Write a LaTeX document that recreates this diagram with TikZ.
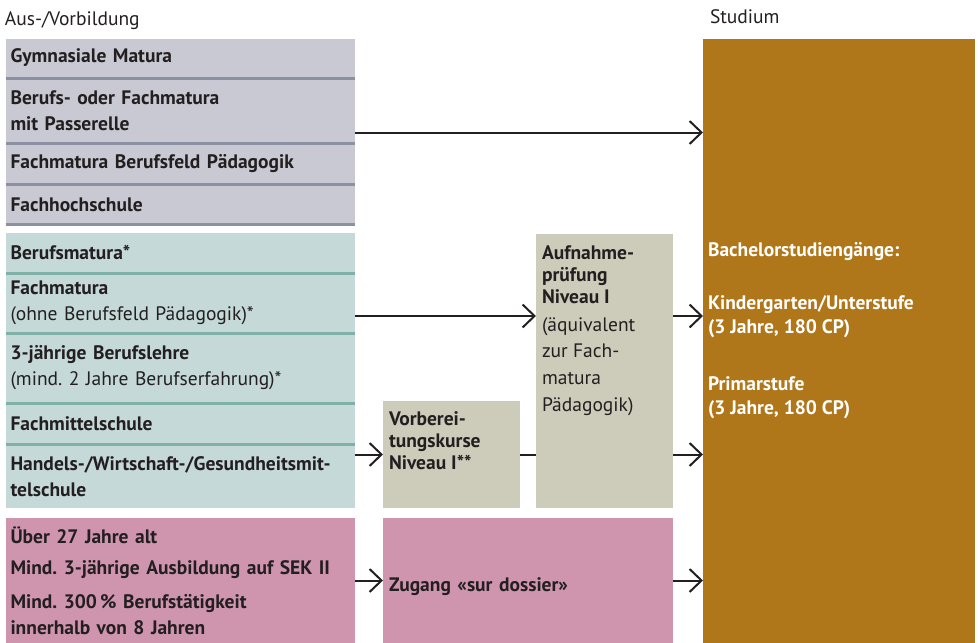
\documentclass[tikz,border=0pt]{standalone}
\usepackage{fontspec}
\setmainfont{PT Sans}
\usepackage{xcolor}
\usetikzlibrary{arrows.meta, positioning}

\definecolor{grayfill}{HTML}{C9C9D3}
\definecolor{grayline}{HTML}{8B90A3}
\definecolor{tealfill}{HTML}{C5D9D8}
\definecolor{tealline}{HTML}{80B1A9}
\definecolor{pinkfill}{HTML}{CF95AF}
\definecolor{beigefill}{HTML}{CDCBBA}
\definecolor{ochre}{HTML}{B0771A}
\definecolor{ink}{HTML}{231F20}

\frenchspacing

\begin{document}
\begin{tikzpicture}[x=1pt, y=-1pt, text=ink, outer sep=0pt]
\tikzstyle{txt} = [font=\fontsize{19.5}{26}\selectfont]
\tikzstyle{block} = [rectangle, anchor=north west, minimum width=349pt, inner sep=0pt]
\tikzstyle{row} = [rectangle, minimum width=349pt, text width=339pt, inner xsep=5pt, inner ysep=0pt, align=left, font=\bfseries\fontsize{19.5}{26}\selectfont]
\tikzstyle{box} = [rectangle, anchor=north west, inner sep=0pt]
\tikzstyle{boxtext} = [anchor=north west, inner sep=0pt, align=left, txt]
\tikzstyle{arr} = [line width=2pt, draw=ink, -{Straight Barb[length=12pt, width=23pt]}]

\useasboundingbox (0,0) rectangle (978,643);

% headings
\node (hdrleft) [anchor=base west, inner sep=0pt, txt] at (5,25) {Aus-/Vorbildung};
\node (hdrright) [anchor=base west, inner sep=0pt, txt] at (710,23) {Studium};

% Maturitaet
\node (grayblk) [block, fill=grayline, minimum height=187pt] at (5.5,39) {};
\node (g1) [row, fill=grayfill, minimum height=38pt, anchor=north west] at (grayblk.north west) {Gymnasiale Matura};
\node (g2) [row, fill=grayfill, minimum height=62pt, below=3pt of g1] {Berufs- oder Fachmatura\\mit Passerelle};
\node (g3) [row, fill=grayfill, minimum height=38pt, below=3pt of g2] {Fachmatura Berufsfeld Pädagogik};
\node (g4) [row, fill=grayfill, minimum height=37pt, below=3pt of g3] {Fachhochschule};

% Berufsbildung
\node (tealblk) [block, fill=tealline, minimum height=275pt] at (5.5,233) {};
\node (t1) [row, fill=tealfill, minimum height=38.5pt, anchor=north west] at (tealblk.north west) {Berufsmatura*};
\node (t2) [row, fill=tealfill, minimum height=57pt, below=3pt of t1] {Fachmatura\\\mdseries(ohne Berufsfeld Pädagogik)*};
\node (t3) [row, fill=tealfill, minimum height=67pt, below=3pt of t2] {3-jährige Berufslehre\\\mdseries(mind. 2 Jahre Berufserfahrung)*};
\node (t4) [row, fill=tealfill, minimum height=38pt, below=3pt of t3] {Fachmittelschule};
\node (t5) [row, fill=tealfill, minimum height=62.5pt, below=3pt of t4] {Handels-/Wirtschaft-/Gesundheitsmit-\\telschule};

% sur dossier
\node (pink) [row, fill=pinkfill, minimum height=125pt, anchor=north west] at (5.5,518) {Über 27 Jahre alt\\[5pt]Mind. 3-jährige Ausbildung auf SEK II\\[8pt]Mind. 300\,\% Berufstätigkeit\\innerhalb von 8 Jahren};

% Zwischenstufen
\node (vorb) [box, fill=beigefill, minimum width=137pt, minimum height=107pt] at (383,401) {};
\node (vorbtext) [boxtext, font=\bfseries\fontsize{19.5}{22}\selectfont] at ([xshift=6pt, yshift=-11pt]vorb.north west) {Vorberei-\\tungskurse\\Niveau I**};
\node (auf) [box, fill=beigefill, minimum width=137pt, minimum height=274pt] at (536,234) {};
\node (auftext) [boxtext, font=\fontsize{19.5}{22}\selectfont] at ([xshift=6pt, yshift=-12pt]auf.north west) {\bfseries Aufnahme-\\\bfseries prüfung\\\bfseries Niveau I\\[6pt](äquivalent\\[4pt]zur Fach-\\[5pt]matura\\[5pt]Pädagogik)};
\node (zugang) [box, fill=pinkfill, minimum width=290pt, minimum height=125pt, text width=278pt, inner xsep=6pt, text height=21pt, text depth=0pt, align=left, font=\bfseries\fontsize{19.5}{26}\selectfont, anchor=north west] at (383,518) {Zugang «sur dossier»};

% Studium
\node (studium) [box, fill=ochre, minimum width=272pt, minimum height=604pt] at (703,39) {};
\node (studtext) [boxtext, text=white, font=\bfseries\fontsize{19.5}{24}\selectfont] at ([xshift=5pt, yshift=-203pt]studium.north west) {Bachelorstudiengänge:\\[29pt]Kindergarten/Unterstufe\\(3 Jahre, 180 CP)\\[33pt]Primarstufe\\(3 Jahre, 180 CP)};

% connectors
\coordinate (fmline) at ([yshift=-13pt]t2.east);
\draw[arr] (grayblk.east) -- (grayblk.east -| studium.west);
\draw[arr] (fmline) -- (fmline -| auf.west);
\draw[arr] (fmline -| auf.east) -- (fmline -| studium.west);
\draw[arr] (t5.east |- vorb.west) -- (vorb.west);
\draw[line width=2pt, draw=ink] (vorb.east) -- (vorb.east -| auf.west);
\draw[arr] (vorb.east -| auf.east) -- (vorb.east -| studium.west);
\draw[arr] (pink.east) -- (zugang.west);
\draw[arr] (zugang.east) -- (zugang.east -| studium.west);

\end{tikzpicture}
\end{document}
